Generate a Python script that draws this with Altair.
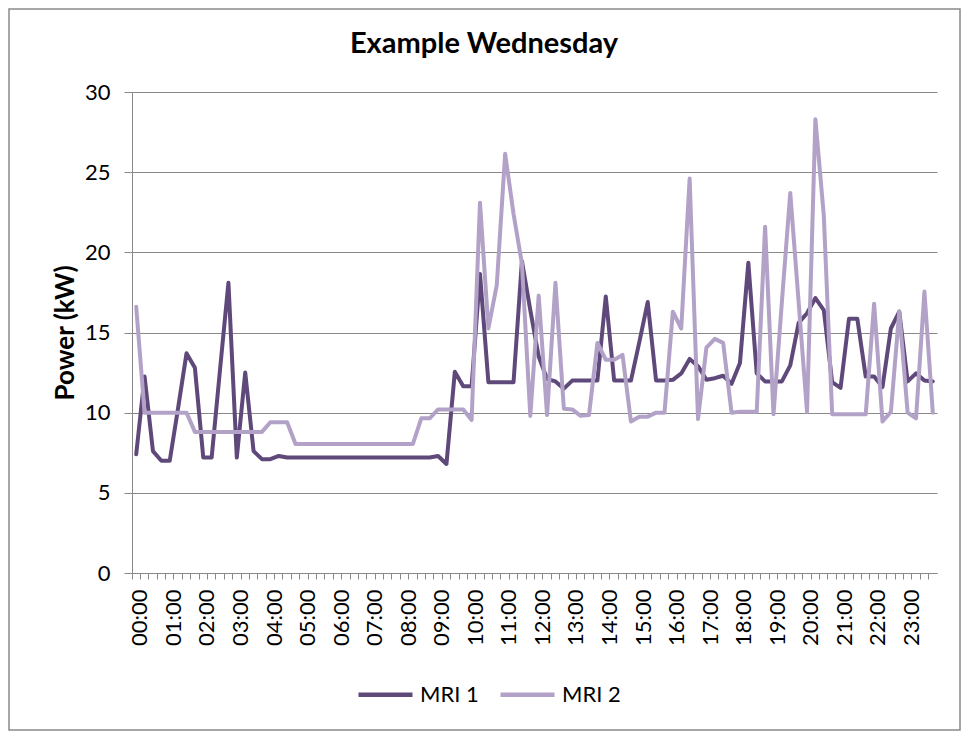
import altair as alt
import pandas as pd

chart_title = ["Example Wednesday"]
hour_labels = ["00:00", "01:00", "02:00", "03:00", "04:00", "05:00", "06:00", "07:00",
               "08:00", "09:00", "10:00", "11:00", "12:00", "13:00", "14:00", "15:00",
               "16:00", "17:00", "18:00", "19:00", "20:00", "21:00", "22:00", "23:00"]
minute_labels = ["00", "15", "30", "45"]
times = [h[:3] + m for h in hour_labels for m in minute_labels]

mri1 = [7.4, 12.25, 7.6, 7.0, 7.0, 10.3, 13.7, 12.8, 7.2, 7.2, 12.7, 18.1,
        7.2, 12.5, 7.6, 7.1, 7.1, 7.3, 7.2, 7.2, 7.2, 7.2, 7.2, 7.2,
        7.2, 7.2, 7.2, 7.2, 7.2, 7.2, 7.2, 7.2, 7.2, 7.2, 7.2, 7.2,
        7.3, 6.8, 12.55, 11.65, 11.65, 18.65, 11.9, 11.9, 11.9, 11.9, 19.45, 16.4,
        13.5, 12.1, 11.95, 11.5, 12.0, 12.0, 12.0, 12.0, 17.25, 12.0, 12.0, 12.0,
        14.4, 16.9, 12.0, 12.0, 12.05, 12.45, 13.35, 12.9, 12.05, 12.15, 12.3, 11.8,
        13.1, 19.35, 12.45, 11.95, 11.95, 11.95, 12.95, 15.6, 16.2, 17.15, 16.4, 11.9,
        11.55, 15.85, 15.85, 12.25, 12.25, 11.6, 15.25, 16.3, 11.95, 12.45, 12.0, 11.95]

mri2 = [16.6, 10.0, 10.0, 10.0, 10.0, 10.0, 10.0, 8.8, 8.8, 8.8, 8.8, 8.8,
        8.8, 8.8, 8.8, 8.8, 9.4, 9.4, 9.4, 8.05, 8.05, 8.05, 8.05, 8.05,
        8.05, 8.05, 8.05, 8.05, 8.05, 8.05, 8.05, 8.05, 8.05, 8.05, 9.65, 9.65,
        10.2, 10.2, 10.2, 10.2, 9.55, 23.1, 15.25, 17.95, 26.15, 22.4, 19.3, 9.8,
        17.3, 9.85, 18.1, 10.25, 10.2, 9.8, 9.85, 14.35, 13.3, 13.3, 13.6, 9.45,
        9.75, 9.75, 10.0, 10.0, 16.3, 15.25, 24.6, 9.6, 14.05, 14.6, 14.35, 10.0,
        10.05, 10.05, 10.05, 21.6, 9.9, 16.9, 23.7, 16.9, 10.05, 28.3, 22.3, 9.9,
        9.9, 9.9, 9.9, 9.9, 16.8, 9.45, 10.05, 16.3, 10.0, 9.65, 17.55, 10.0]

series_names = ["MRI 1", "MRI 2"]
series_colors = ["#5F497A", "#B3A2C7"]
y_ticks = [0, 5, 10, 15, 20, 25, 30]

df = pd.DataFrame({
    "time": times * 2,
    "power": mri1 + mri2,
    "series": [series_names[0]] * len(mri1) + [series_names[1]] * len(mri2),
})

W, H = 805, 481
PAD = {"left": 124, "top": 84, "right": 24, "bottom": 158}
FONT = "Lato"
GREY = "#898989"

lines = alt.Chart(df).mark_line(strokeWidth=4, strokeJoin="round", strokeCap="round").encode(
    x=alt.X("time:O", sort=None, bandPosition=0.5,
            scale=alt.Scale(type="band", paddingInner=0, paddingOuter=0),
            axis=alt.Axis(title=None, bandPosition=0, labelOffset=4.2,
                          labelExpr="slice(datum.label, 3) == '00' ? datum.label : ''",
                          labelAngle=-90, labelOverlap=False, labelFont=FONT,
                          labelFontSize=22, labelColor="black", labelPadding=10,
                          tickSize=6, tickColor=GREY, domainColor=GREY, grid=False)),
    y=alt.Y("power:Q", scale=alt.Scale(domain=[0, 30], nice=False),
            axis=alt.Axis(values=y_ticks, title="Power (kW)", titleFont=FONT,
                          titleFontSize=26, titleFontWeight="bold", titleColor="black",
                          titlePadding=6, labelFont=FONT, labelFontSize=22,
                          labelColor="black", labelPadding=14, tickSize=8,
                          tickColor=GREY, domainColor=GREY, gridColor=GREY,
                          grid=True)),
    color=alt.Color("series:N", scale=alt.Scale(domain=series_names, range=series_colors),
                    legend=alt.Legend(title=None, orient="none", direction="horizontal",
                                      legendX=224, legendY=573, padding=0,
                                      symbolType="stroke", symbolSize=2916,
                                      symbolStrokeWidth=4.5, labelFont=FONT,
                                      labelFontSize=22, labelColor="black",
                                      labelOffset=5, columnPadding=12)),
)

frame = alt.Chart(pd.DataFrame({"k": [0]})).mark_rect(
    filled=False, stroke=GREY, strokeWidth=1.5
).encode(
    x=alt.value(-123), x2=alt.value(W + 23),
    y=alt.value(-83), y2=alt.value(H + 157),
)

title = alt.Chart(pd.DataFrame({"t": chart_title})).mark_text(
    font=FONT, fontSize=29, fontWeight="bold", color="black",
    align="center", baseline="middle"
).encode(
    text="t:N",
    x=alt.value(352),
    y=alt.value(-48),
)

chart = alt.layer(frame, lines, title).properties(
    width=W, height=H,
    padding=PAD,
    autosize=alt.AutoSizeParams(type="none"),
).configure_view(stroke=None)

chart.save("out.html", embed_options={"renderer": "svg", "actions": False})
